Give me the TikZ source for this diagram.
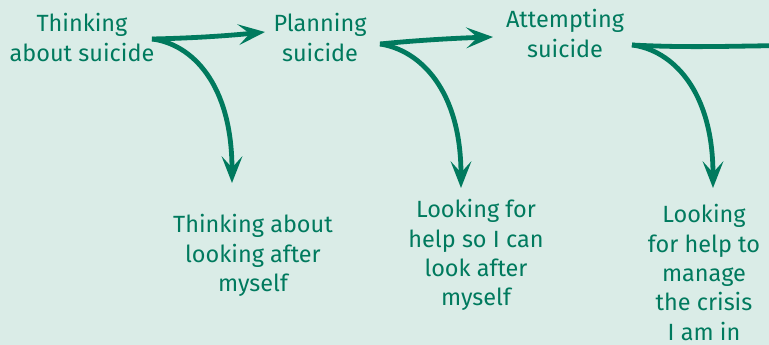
\documentclass[tikz,border=0pt]{standalone}
\usepackage{fontspec}
\setmainfont{Fira Sans}
\usetikzlibrary{arrows.meta}
\definecolor{bgmint}{RGB}{218,236,231}
\definecolor{dgreen}{RGB}{0,122,94}
\newcommand\mlines[1]{\begin{tabular}[t]{@{}c@{}}#1\end{tabular}}
\tikzset{
  lbl/.style={anchor=base, text=dgreen, inner sep=0pt,
    font=\fontsize{17.6}{22}\selectfont},
  flow/.style={draw=dgreen, line width=3.6pt,
    -{Stealth[length=20pt, width=15.5pt, inset=8.5pt]}},
  plain/.style={draw=dgreen, line width=3.6pt}
}
\begin{document}
\begin{tikzpicture}[x=0.75pt, y=-0.75pt]
\fill[bgmint] (0,0) rectangle (769,345);
\useasboundingbox (0,0) rectangle (769,345);
\clip (0,0) rectangle (769,345);

% top row
\node[lbl] (think) at (82,32) {\mlines{Thinking\\about suicide}};
\node[lbl] (plan) at (320,32) {\mlines{Planning\\suicide}};
\node[lbl] (att) at (565,28) {\mlines{Attempting\\suicide}};

% bottom row
\node[lbl] (look1) at (253,233) {\mlines{Thinking about\\looking after\\myself}};
\node[lbl] (look2) at (476,218) {\mlines{Looking for\\help so I can\\look after\\myself}};
\node[lbl] (look3) at (704,223) {\mlines{Looking\\for help to\\manage\\the crisis\\I am in}};

% branch points and arrow tips
\coordinate (s1) at (152,39);
\coordinate (s2) at (380,44);
\coordinate (s3) at (632,45);
\coordinate (h1) at (265,32);
\coordinate (h2) at (493,37);
\coordinate (h3) at (790,45.5);
\coordinate (d1) at (232,183);
\coordinate (d2) at (461,188);
\coordinate (d3) at (713,188);

% horizontal arrows
\draw[flow] (s1) .. controls (200,38) and (235,35) .. (h1);
\draw[flow] (s2) .. controls (420,40) and (460,38) .. (h2);
\draw[plain] (s3) .. controls (690,48) and (730,46) .. (h3);

% downward arrows
\draw[flow] (s1) .. controls (192,44) and (232,84) .. (d1);
\draw[flow] (s2) .. controls (420,50) and (461,90) .. (d2);
\draw[flow] (s3) .. controls (672,50) and (713,90) .. (d3);
\end{tikzpicture}
\end{document}
